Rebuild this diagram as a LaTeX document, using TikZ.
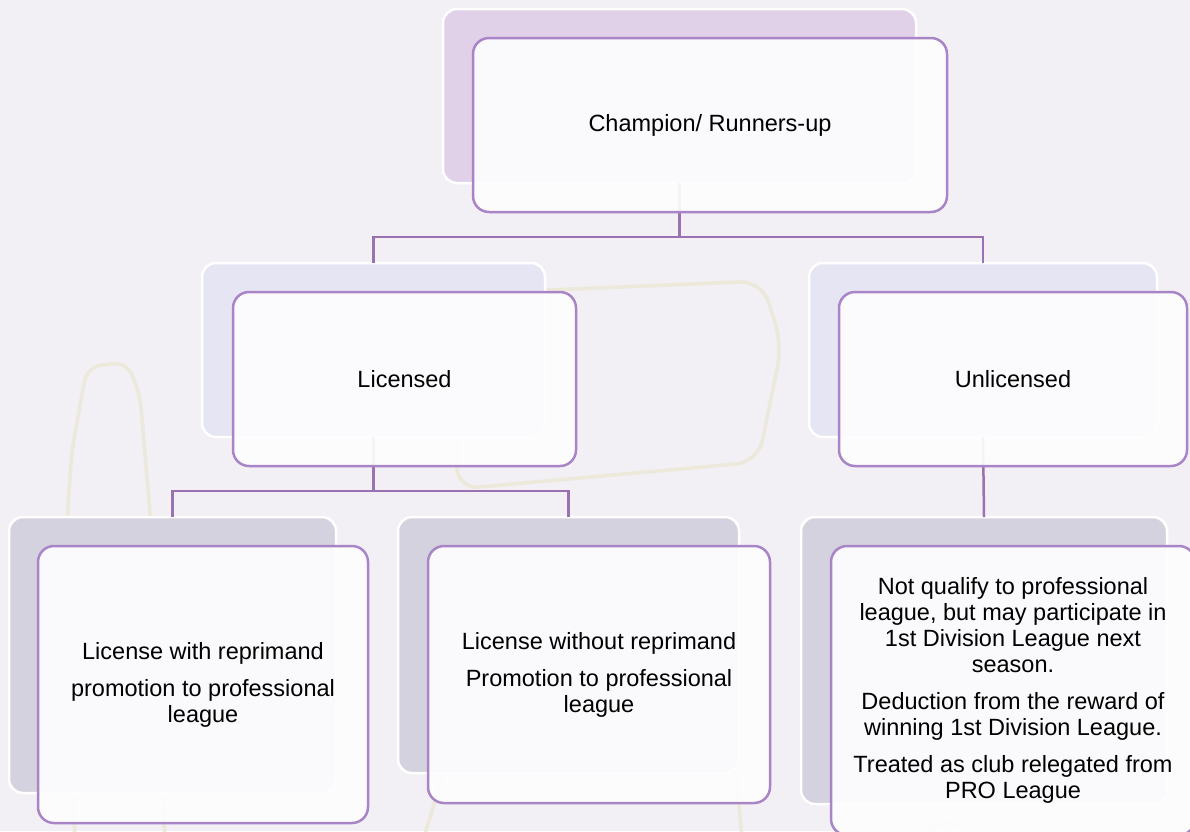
\documentclass[tikz,border=0pt]{standalone}
\usepackage{fontspec}
\setmainfont{Liberation Sans}
\definecolor{bg}{HTML}{F2F0F4}
\definecolor{deco}{HTML}{ECE8DA}
\definecolor{edgecol}{HTML}{A985C7}
\definecolor{conncol}{HTML}{9A72B2}
\definecolor{fillA}{HTML}{E0D0E8}
\definecolor{fillB}{HTML}{E6E5F3}
\definecolor{fillC}{HTML}{D4D2DE}
\definecolor{frontcol}{HTML}{FDFDFE}
\begin{document}
\begin{tikzpicture}[x=1pt,y=-1pt,
  backbox/.style={draw=white, line width=2.5pt, rounded corners=14pt, anchor=north west, inner sep=0pt, outer sep=0pt},
  frontbox/.style={draw=edgecol, line width=2.5pt, fill=frontcol, fill opacity=0.93, draw opacity=1, text opacity=1, rounded corners=16pt, anchor=north west, inner sep=0pt, outer sep=0pt, align=center, font=\fontsize{23.5}{26}\selectfont},
  conn/.style={draw=conncol, line width=2.5pt},
  decoline/.style={draw=deco, line width=3.5pt, line join=round, line cap=round}]
\useasboundingbox (0,0) rectangle (1190,831);
\clip (0,0) rectangle (1190,831);
\fill[bg] (0,0) rectangle (1190,831);
% background decorations
\draw[decoline, rounded corners=22pt] (455,294) -- (762,281) -- (782,345) -- (758,462) -- (457,489) -- cycle;
\draw[decoline, rounded corners=14pt] (75,845) -- (67,520) -- (72,450) -- (87,367) -- (127,362) -- (140,395) -- (150,513) -- (165,845);
\draw[decoline, rounded corners=14pt] (420,850) -- (447,762) -- (735,758) -- (743,850);
\draw[decoline] (925,845) .. controls (930,815) and (965,815) .. (972,845);
% junction coordinates
\coordinate (j1) at (0,237);
\coordinate (j2) at (0,491);
% back boxes
\node[backbox, fill=fillA, minimum width=473pt, minimum height=174pt] (topback) at (443,9) {};
\node[backbox, fill=fillB, minimum width=343pt, minimum height=174pt] (licback) at (202,263) {};
\node[backbox, fill=fillB, minimum width=348pt, minimum height=174pt] (unlback) at (809,263) {};
\node[backbox, fill=fillC, minimum width=327pt, minimum height=276pt] (lwback) at (9,517) {};
\node[backbox, fill=fillC, minimum width=341pt, minimum height=256pt] (lwoback) at (398,517) {};
\node[backbox, fill=fillC, minimum width=366pt, minimum height=287pt] (nqback) at (801,517) {};
% connectors
\draw[conn] (topback.south) -- (topback.south |- j1) -| (licback.north);
\draw[conn] (topback.south |- j1) -| (unlback.north);
\draw[conn] (licback.south) -- (licback.south |- j2) -| (lwback.north);
\draw[conn] (licback.south |- j2) -| (lwoback.north);
\draw[conn] (unlback.south) -- (nqback.north);
% front boxes
\node[frontbox, minimum width=474pt, minimum height=174pt] (top) at (473,38) {Champion/ Runners-up};
\node[frontbox, minimum width=343pt, minimum height=174pt] (lic) at (233,292) {Licensed};
\node[frontbox, minimum width=348pt, minimum height=174pt] (unl) at (839,292) {Unlicensed};
\node[frontbox, minimum width=330pt, minimum height=277pt] (lw) at (38,546) {License with reprimand\\[11pt]promotion to professional\\league};
\node[frontbox, minimum width=342pt, minimum height=257pt] (lwo) at (428,546) {License without reprimand\\[11pt]Promotion to professional\\league};
\node[frontbox, minimum width=364pt, minimum height=289pt] (nq) at (831,546) {Not qualify to professional\\league, but may participate in\\1st Division League next\\season.\\[11pt]Deduction from the reward of\\winning 1st Division League.\\[11pt]Treated as club relegated from\\PRO League};
\end{tikzpicture}
\end{document}
